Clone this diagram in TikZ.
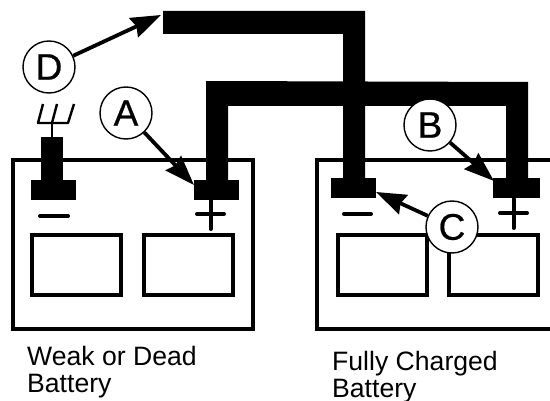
\documentclass[tikz,border=0pt]{standalone}
\usepackage{fontspec}
\setmainfont{Liberation Sans}
\newfontfamily\tagfont[FakeBold=0.6]{Liberation Sans}
\usetikzlibrary{arrows.meta}
\tikzset{
  frame/.style={draw=black,line width=4pt,fill=none},
  cell/.style={draw=black,line width=4pt,fill=none,rectangle,inner sep=0pt,minimum width=89pt,minimum height=60pt},
  term/.style={fill=black,rectangle,inner sep=0pt,minimum width=45pt,minimum height=20pt},
  cable/.style={fill=black,draw=none},
  sign/.style={draw=black,line width=4pt,line cap=round},
  tag/.style={circle,draw=black,fill=white,line width=1.4pt,inner sep=0pt,minimum size=52pt,font=\tagfont\fontsize{37}{37}\selectfont},
  pointer/.style={draw=black,line width=3.8pt,-{Stealth[length=30pt,width=21pt,inset=3pt]}},
  caption/.style={inner sep=0pt,align=left,anchor=base west,font=\fontsize{26.6}{28}\selectfont},
  fork/.style={draw=black,line width=2.4pt}
}
\begin{document}
\begin{tikzpicture}[x=1pt,y=-1pt]
\useasboundingbox[fill=white] (0,0) rectangle (550,401);
% battery frames
\node[frame,rectangle,inner sep=0pt,minimum width=240pt,minimum height=169pt] (batA) at (133,244.5) {};
\draw[frame] (550,160) -- (317,160) -- (317,329) -- (550,329);
% cells
\node[cell] (cellA1) at (76.5,265) {};
\node[cell] (cellA2) at (188.5,265) {};
\node[cell] (cellB1) at (382,265) {};
\node[cell] (cellB2) at (493.5,265) {};
% signs
\draw[sign] (40,216) -- (68,216);
\draw[sign] (197,214) -- (224,214) (210.5,200) -- (210.5,229);
\draw[sign] (344,214) -- (371,214);
\draw[sign] (500,213) -- (527,213) (513.5,199) -- (513.5,228);
% cables
\fill[cable] (163,11) -- (365,11) -- (365,180) -- (343,180) -- (343,34) -- (163,34) -- cycle;
\fill[cable] (206,81) -- (528,82) -- (528,180) -- (506,180) -- (506,106) -- (228,106) -- (228,182) -- (206,182) -- cycle;
% clamp and fork on the dead battery
\fill[cable] (41,137) rectangle (63,182);
\draw[fork] (52,137) -- (52,123);
\draw[fork,line join=round] (43,104) -- (38,123) -- (68,123) -- (74,104);
\draw[fork] (52,123) -- (57,104);
% terminals
\node[term] (negA) at (53,190.5) {};
\node[term] (posA) at (216.5,190) {};
\node[term] (negB) at (353.5,188) {};
\node[term,minimum width=47pt] (posB) at (516.5,188) {};
\coordinate (cableEnd) at (161,15);
\coordinate (posAEnd) at (194,185);
\coordinate (posBEnd) at (494,181);
\coordinate (negBEnd) at (376,192);
% tags
\node[tag] (tagD) at (49,67) {D};
\node[tag] (tagA) at (126,113) {A};
\node[tag] (tagB) at (430,125) {B};
\node[tag] (tagC) at (452,227) {C};
% pointers
\draw[pointer] (tagD) -- (cableEnd);
\draw[pointer] (tagA) -- (posAEnd);
\draw[pointer] (tagB) -- (posBEnd);
\draw[pointer] (tagC) -- (negBEnd);
% captions
\node[caption] (capA) at (27,393) {Weak or Dead\\Battery};
\node[caption] (capB) at (332,398) {Fully Charged\\Battery};
\end{tikzpicture}
\end{document}
